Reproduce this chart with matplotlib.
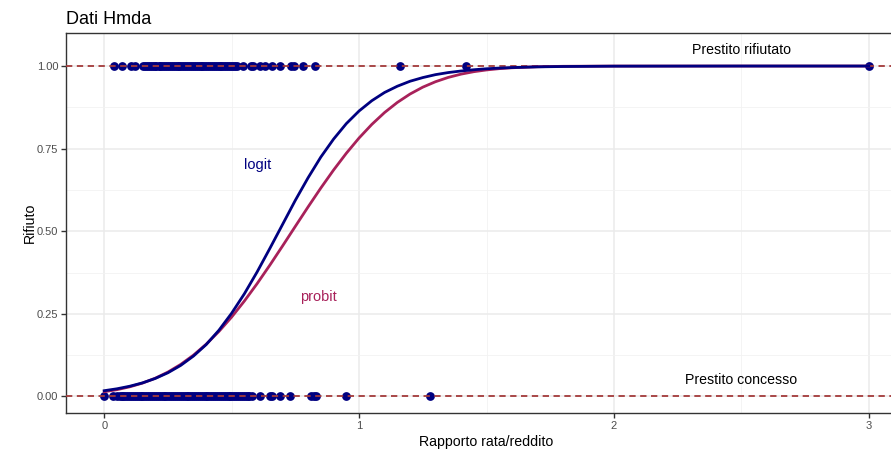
import matplotlib
matplotlib.use("Agg")
import matplotlib.pyplot as plt

plt.rcParams['font.family'] = ['Liberation Sans', 'DejaVu Sans']

# rapporto rata/reddito, domande rifiutate (deny = 1)
x_rifiuto = [0.038, 0.071, 0.104, 0.119,
             0.152, 0.16, 0.168, 0.175, 0.183, 0.19, 0.198, 0.205, 0.213, 0.22,
             0.228, 0.235, 0.243, 0.25, 0.258, 0.265, 0.273, 0.28, 0.288, 0.295,
             0.303, 0.31, 0.318, 0.325, 0.333, 0.34, 0.348, 0.355, 0.363, 0.37,
             0.378, 0.385, 0.393, 0.4, 0.408, 0.415, 0.423, 0.43, 0.438, 0.445,
             0.453, 0.46, 0.468, 0.475, 0.483, 0.49, 0.498, 0.505, 0.513, 0.52,
             0.545, 0.574, 0.584, 0.613, 0.629, 0.659, 0.691, 0.731, 0.744,
             0.78, 0.828, 1.159, 1.419, 3.0]
# domande accettate (deny = 0)
x_concesso = [0.0, 0.036,
              0.052, 0.06, 0.068, 0.075, 0.083, 0.09, 0.098, 0.105, 0.113, 0.12,
              0.128, 0.135, 0.143, 0.15, 0.158, 0.165, 0.173, 0.18, 0.188, 0.195,
              0.203, 0.21, 0.218, 0.225, 0.233, 0.24, 0.248, 0.255, 0.263, 0.27,
              0.278, 0.285, 0.293, 0.3, 0.308, 0.315, 0.323, 0.33, 0.338, 0.345,
              0.353, 0.36, 0.368, 0.375, 0.383, 0.39, 0.398, 0.405, 0.413, 0.42,
              0.428, 0.435, 0.443, 0.45, 0.458, 0.465, 0.473, 0.48, 0.488, 0.495,
              0.503, 0.51, 0.518, 0.525, 0.533, 0.54, 0.548, 0.555, 0.563, 0.57,
              0.58, 0.61, 0.65, 0.659, 0.691, 0.728, 0.811, 0.822, 0.831, 0.949,
              1.279]

# curve stimate
x_curve = [0.0, 0.05, 0.1, 0.15, 0.2, 0.25, 0.3, 0.35, 0.4, 0.45, 0.5, 0.55,
           0.6, 0.65, 0.7, 0.75, 0.8, 0.85, 0.9, 0.95, 1.0, 1.05, 1.1, 1.15,
           1.2, 1.25, 1.3, 1.35, 1.4, 1.45, 1.5, 1.55, 1.6, 1.7, 1.8, 2.0,
           2.5, 3.0]
y_logit = [0.0175, 0.0233, 0.031, 0.0411, 0.0545, 0.0718, 0.094, 0.1222,
           0.157, 0.2004, 0.252, 0.3109, 0.377, 0.4482, 0.521, 0.5939, 0.662,
           0.7247, 0.779, 0.8258, 0.864, 0.8951, 0.92, 0.9389, 0.954, 0.9651,
           0.974, 0.9803, 0.985, 0.9888, 0.9918, 0.9938, 0.9954, 0.9975,
           0.9986, 0.9996, 1.0, 1.0]
y_probit = [0.0143, 0.0206, 0.0292, 0.0405, 0.0552, 0.0739, 0.097, 0.125,
            0.1582, 0.1967, 0.2404, 0.2889, 0.3416, 0.3976, 0.4558, 0.515,
            0.5738, 0.631, 0.6854, 0.7361, 0.7823, 0.8234, 0.8593, 0.8898,
            0.9153, 0.9361, 0.9526, 0.9656, 0.9755, 0.9829, 0.9882, 0.9921,
            0.9948, 0.9979, 0.9992, 0.9999, 1.0, 1.0]

navy = '#000080'
rosso = '#A8215A'
marrone = '#A33A3A'

fig = plt.figure(figsize=(8.91, 4.49), dpi=100)
ax = fig.add_axes([66 / 891, 36 / 449, 841 / 891, 380 / 449])

ax.set_xlim(-0.15, 3.15)
ax.set_ylim(-0.05, 1.1)

ax.set_xticks([0, 1, 2, 3])
ax.set_xticks([0.5, 1.5, 2.5], minor=True)
ax.set_yticks([0, 0.25, 0.5, 0.75, 1.0])
ax.set_yticks([0.125, 0.375, 0.625, 0.875], minor=True)
ax.set_yticklabels(['0.00', '0.25', '0.50', '0.75', '1.00'])
ax.grid(which='major', color='#EBEBEB', lw=1.1, zorder=0)
ax.grid(which='minor', color='#F2F2F2', lw=0.6, zorder=0)
ax.set_axisbelow(True)

ax.scatter(x_rifiuto, [1] * len(x_rifiuto), s=40, color=navy, zorder=3, lw=0)
ax.scatter(x_concesso, [0] * len(x_concesso), s=40, color=navy, zorder=3, lw=0)
for yy in (0, 1):
    ax.axhline(yy, color=marrone, lw=1.3, ls=(0, (3.5, 2.5)), zorder=4)

ax.plot(x_curve, y_probit, color=rosso, lw=2.0, zorder=5)
ax.plot(x_curve, y_logit, color=navy, lw=2.0, zorder=6)

ax.text(0.6, 0.70, 'logit', color=navy, fontsize=10.5, ha='center', va='center')
ax.text(0.84, 0.30, 'probit', color=rosso, fontsize=10.5, ha='center', va='center')
ax.text(2.5, 1.05, 'Prestito rifiutato', fontsize=10.2, ha='center', va='center')
ax.text(2.5, 0.05, 'Prestito concesso', fontsize=10.2, ha='center', va='center')

for s in ax.spines.values():
    s.set_color('#333333')
    s.set_linewidth(1.0)
ax.tick_params(which='major', length=3.5, color='#333333', labelcolor='#4D4D4D',
               labelsize=8, width=1.0, pad=2)
ax.tick_params(which='minor', length=0)

ax.set_xlabel('Rapporto rata/reddito', fontsize=10.2, labelpad=3)
ax.set_ylabel('Rifiuto', fontsize=10.2, labelpad=0)
fig.text(66 / 891, 1 - 19 / 449, 'Dati Hmda', fontsize=13, ha='left', va='center')

fig.savefig('out.png', dpi=100)
